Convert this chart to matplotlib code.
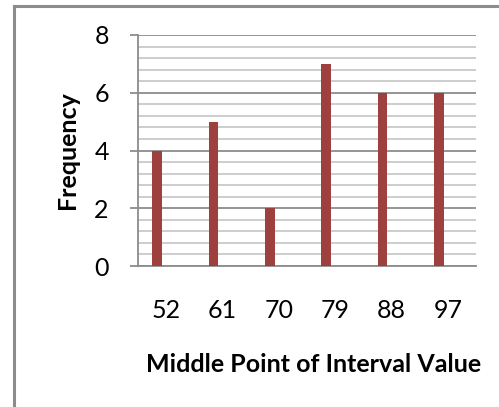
"""
Frequency of values grouped by interval midpoint.
"""

import matplotlib.pyplot as plt
import numpy as np
from matplotlib.lines import Line2D
from matplotlib.ticker import MultipleLocator

midpoints = ["52", "61", "70", "79", "88", "97"]
frequency = [4, 5, 2, 7, 6, 6]

plt.rcParams["font.family"] = ["Lato", "DejaVu Sans"]

fig = plt.figure(figsize=(4.99, 4.07), dpi=100)
ax = fig.add_axes([138 / 499, 141 / 407, 338 / 499, 231 / 407])

x = np.arange(len(midpoints))
ax.bar(x - 0.16, frequency, width=0.17, color="#9e413e", zorder=3)

ax.set_xlim(-0.5, len(midpoints) - 0.5)
ax.set_ylim(0, 8)
ax.yaxis.set_major_locator(MultipleLocator(2))
ax.yaxis.set_minor_locator(MultipleLocator(0.4))
ax.set_xticks(x)
ax.set_xticklabels(midpoints)

ax.grid(axis="y", which="minor", color="#c0c0c0", linewidth=1.1, zorder=0)
ax.grid(axis="y", which="major", color="#8c8c8c", linewidth=1.3, zorder=1)

for side in ("top", "right"):
    ax.spines[side].set_visible(False)
for side in ("left", "bottom"):
    ax.spines[side].set_color("#8c8c8c")
    ax.spines[side].set_linewidth(1.3)

ax.tick_params(axis="y", which="major", length=6, width=1.3, color="#8c8c8c",
               pad=15, labelsize=18)
ax.tick_params(axis="y", which="minor", length=0)
ax.tick_params(axis="x", length=0, pad=24, labelsize=18)

ax.set_xlabel("Middle Point of Interval Value", fontsize=18, fontweight="bold",
              labelpad=22)
ax.xaxis.label.set_x(0.52)
ax.set_ylabel("Frequency", fontsize=18, fontweight="bold", labelpad=11)

# chart frame: only the top and left edges fall inside the canvas
fig.add_artist(Line2D([14 / 499, 1.0], [1 - 6 / 407, 1 - 6 / 407],
                      transform=fig.transFigure, color="#8c8c8c", linewidth=2.2))
fig.add_artist(Line2D([14 / 499, 14 / 499], [0.0, 1 - 6 / 407],
                      transform=fig.transFigure, color="#8c8c8c", linewidth=2.2))

fig.savefig("out.png", dpi=100)
